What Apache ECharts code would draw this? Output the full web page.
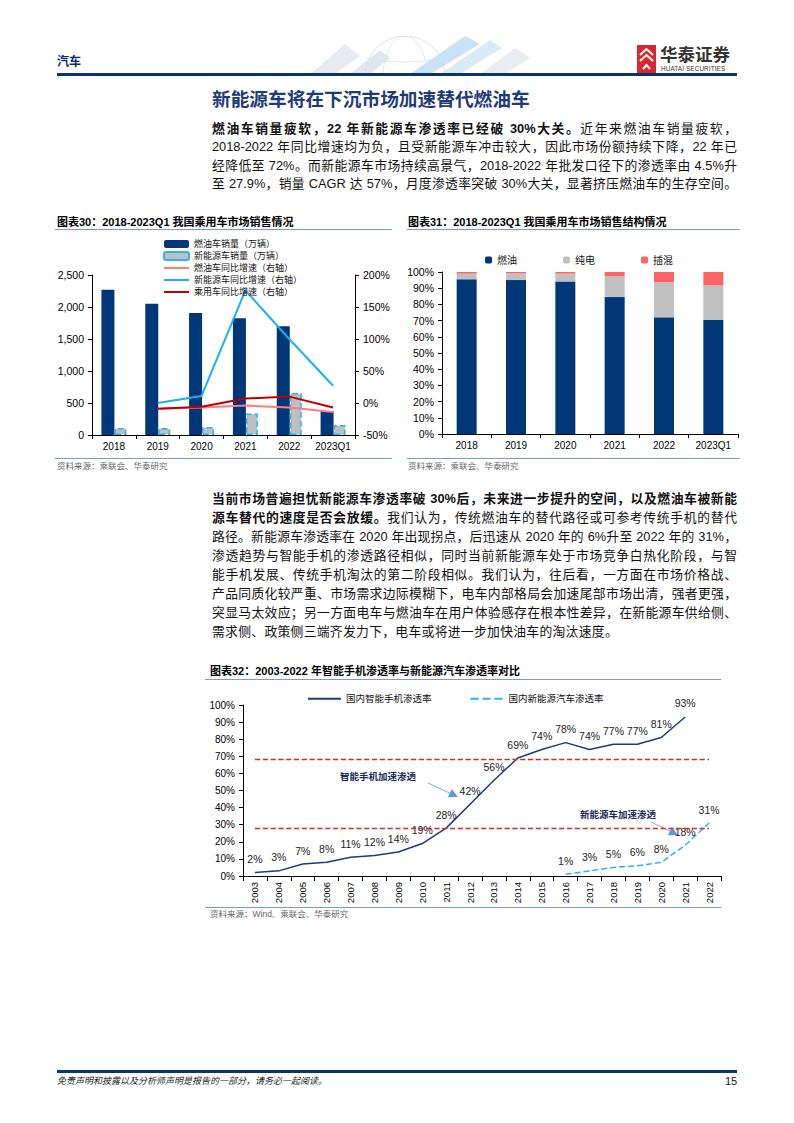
<!DOCTYPE html>
<html><head><meta charset="utf-8">
<script src="https://cdn.jsdelivr.net/npm/echarts@6/dist/echarts.min.js"></script>
<style>
html,body{margin:0;padding:0;background:#fff;}
#page{position:relative;width:794px;height:1123px;overflow:hidden;font-family:"Liberation Sans","Noto Sans CJK SC",sans-serif;color:#111;}
#chart{position:absolute;left:0;top:0;width:794px;height:1123px;}
.abs{position:absolute;white-space:nowrap;}
.ln{position:absolute;left:212px;width:525px;font-size:12.8px;line-height:18.5px;height:18.5px;text-align:justify;text-align-last:justify;color:#111;}
.hr{position:absolute;height:1px;background:#7f9cc0;}
.ttl{position:absolute;font-size:11px;font-weight:bold;color:#000;line-height:14px;white-space:nowrap;}
.src{position:absolute;font-size:8.5px;color:#666;line-height:12px;white-space:nowrap;}
b{font-weight:bold;}
</style></head>
<body><div id="page">
<div id="chart"></div>

<!-- header -->
<svg class="abs" style="left:290px;top:36px" width="250" height="38">
  <g opacity="0.55">
    <polygon points="20,38 55,8 70,20 45,38" fill="#d5dce6"/>
    <polygon points="60,38 90,14 100,22 80,38" fill="#c6d3e3"/>
    <circle cx="115" cy="40" r="40" fill="none" stroke="#c3ccd8" stroke-width="1"/>
    <ellipse cx="115" cy="40" rx="22" ry="40" fill="none" stroke="#c3ccd8" stroke-width="0.8"/>
    <path d="M75,22 Q115,30 155,22" fill="none" stroke="#c3ccd8" stroke-width="0.8"/>
    <polygon points="120,38 175,0 190,8 140,38" fill="#9fcbee"/>
    <polygon points="150,38 200,4 212,12 170,38" fill="#bcd9f0"/>
    <polygon points="190,38 225,12 240,22 215,38" fill="#d8dde5"/>
  </g>
</svg>
<div class="abs" style="left:57px;top:54px;font-size:12px;font-weight:bold;color:#0b2a66;line-height:16px;">汽车</div>
<svg class="abs" style="left:637px;top:45px" width="19" height="28">
  <rect x="0" y="0" width="19" height="28" fill="#d7282f"/>
  <path d="M3,10 L9.5,4 L16,10 M3,16 L9.5,10 L16,16 M6,24 L9.5,20 L13,24" stroke="#fff" stroke-width="2" fill="none"/>
</svg>
<div class="abs" style="left:660px;top:44px;font-size:17.5px;font-weight:bold;color:#333;line-height:22px;">华泰证券</div>
<div class="abs" style="left:661px;top:65px;font-size:6.4px;color:#333;line-height:8px;letter-spacing:0.1px;">HUATAI SECURITIES</div>
<div class="abs" style="left:57px;top:73px;width:680px;height:2.5px;background:#0a3470;"></div>

<div class="abs" style="left:212px;top:89px;font-size:18.7px;font-weight:bold;color:#1f3b78;line-height:22px;">新能源车将在下沉市场加速替代燃油车</div>

<div class="ln" style="top:119.5px"><b>燃油车销量疲软，22 年新能源车渗透率已经破 30%大关。</b>近年来燃油车销量疲软，</div>
<div class="ln" style="top:138px">2018-2022 年同比增速均为负，且受新能源车冲击较大，因此市场份额持续下降，22 年已</div>
<div class="ln" style="top:156.5px">经降低至 72%。而新能源车市场持续高景气，2018-2022 年批发口径下的渗透率由 4.5%升</div>
<div class="ln" style="top:175px">至 27.9%，销量 CAGR 达 57%，月度渗透率突破 30%大关，显著挤压燃油车的生存空间。</div>

<!-- chart 30 / 31 titles -->
<div class="ttl" style="left:57px;top:215px;">图表30：2018-2023Q1 我国乘用车市场销售情况</div>
<div class="hr" style="left:55px;top:229px;width:337px;"></div>
<div class="ttl" style="left:408px;top:215px;">图表31：2018-2023Q1 我国乘用车市场销售结构情况</div>
<div class="hr" style="left:407px;top:229px;width:333px;"></div>
<div class="hr" style="left:55px;top:458px;width:337px;"></div>
<div class="src" style="left:57px;top:460px;">资料来源：乘联会、华泰研究</div>
<div class="hr" style="left:407px;top:458px;width:333px;"></div>
<div class="src" style="left:408px;top:460px;">资料来源：乘联会、华泰研究</div>

<div class="ln" style="top:489.5px"><b>当前市场普遍担忧新能源车渗透率破 30%后，未来进一步提升的空间，以及燃油车被新能</b></div>
<div class="ln" style="top:508.5px"><b>源车替代的速度是否会放缓。</b>我们认为，传统燃油车的替代路径或可参考传统手机的替代</div>
<div class="ln" style="top:527.5px">路径。新能源车渗透率在 2020 年出现拐点，后迅速从 2020 年的 6%升至 2022 年的 31%，</div>
<div class="ln" style="top:546.5px">渗透趋势与智能手机的渗透路径相似，同时当前新能源车处于市场竞争白热化阶段，与智</div>
<div class="ln" style="top:565.5px">能手机发展、传统手机淘汰的第二阶段相似。我们认为，往后看，一方面在市场价格战、</div>
<div class="ln" style="top:584.5px">产品同质化较严重、市场需求边际模糊下，电车内部格局会加速尾部市场出清，强者更强，</div>
<div class="ln" style="top:603.5px">突显马太效应；另一方面电车与燃油车在用户体验感存在根本性差异，在新能源车供给侧、</div>
<div class="ln" style="top:622.5px;text-align:left;text-align-last:left;letter-spacing:0.3px;">需求侧、政策侧三端齐发力下，电车或将进一步加快油车的淘汰速度。</div>

<div class="ttl" style="left:210px;top:664px;">图表32：2003-2022 年智能手机渗透率与新能源汽车渗透率对比</div>
<div class="hr" style="left:205px;top:679px;width:516px;"></div>
<div class="hr" style="left:205px;top:907px;width:516px;"></div>
<div class="src" style="left:210px;top:908px;">资料来源：Wind、乘联会、华泰研究</div>

<!-- footer -->
<div class="abs" style="left:57px;top:1070px;width:680px;height:2.5px;background:#0a3470;"></div>
<div class="abs" style="left:57px;top:1075px;font-size:9px;font-style:italic;color:#222;line-height:12px;">免责声明和披露以及分析师声明是报告的一部分，请务必一起阅读。</div>
<div class="abs" style="left:725px;top:1074px;font-size:11px;color:#111;line-height:14px;">15</div>
</div>

<script>
// ---------- data ----------
const years1 = ['2018','2019','2020','2021','2022','2023Q1'];
const fuelSales = [2270, 2050, 1905, 1825, 1700, 372];       // 燃油车销量（万辆）
const nevSales  = [110, 110, 125, 335, 655, 155];            // 新能源车销量（万辆）
const fuelYoY   = [null, -9, -7, -4, -7, -14];               // 燃油车同比增速 %
const nevYoY    = [null, 0, 11, 176, 100, 27];               // 新能源车同比增速 %
const totalYoY  = [null, -9, -6, 7, 10, -7];                 // 乘用车同比增速 %

const shareFuel = [95.5, 95.0, 94.2, 84.5, 72.0, 70.5];      // 燃油 %
const shareBEV  = [3.5, 4.2, 4.8, 12.8, 21.7, 21.2];         // 纯电 %
const sharePHEV = [1.0, 0.8, 1.0, 2.7, 6.3, 8.3];            // 插混 %

const years3 = ['2003','2004','2005','2006','2007','2008','2009','2010','2011','2012',
                '2013','2014','2015','2016','2017','2018','2019','2020','2021','2022'];
const phoneRate = [2,3,7,8,11,12,14,19,28,42,56,69,74,78,74,77,77,81,93,null];
const nevRate   = [null,null,null,null,null,null,null,null,null,null,null,null,null,1,3,5,6,8,18,31];
const thresholds = [68.4, 27.8];

const FONT = '"Liberation Sans","Noto Sans CJK SC",sans-serif';
const axisBase = {
  axisLine:{show:true,onZero:false,lineStyle:{color:'#000',width:1}},
  axisTick:{show:true,length:4,lineStyle:{color:'#000'}},
  axisLabel:{color:'#000',fontSize:10,fontFamily:FONT},
  splitLine:{show:false}
};
function ax(o){return Object.assign({}, JSON.parse(JSON.stringify(axisBase)), o);}

function arrow(x1,y1,x2,y2){
  const a=Math.atan2(y2-y1,x2-x1), L=9, W=4.5;
  const bx=x2-L*Math.cos(a), by=y2-L*Math.sin(a);
  return {type:'group',children:[
    {type:'line',shape:{x1:x1,y1:y1,x2:bx,y2:by},style:{stroke:'#79aee0',lineWidth:1}},
    {type:'polygon',shape:{points:[[x2,y2],[bx-W*Math.sin(a),by+W*Math.cos(a)],[bx+W*Math.sin(a),by-W*Math.cos(a)]]},style:{fill:'#5b9bd5'}}
  ]};
}
const noDot = {opacity:0};

const chart = echarts.init(document.getElementById('chart'), null, {renderer:'svg'});
chart.setOption({
  animation:false,
  textStyle:{fontFamily:FONT},
  grid:[
    {left:92, top:275, width:263, height:160},
    {left:442, top:272, width:296, height:162},
    {left:243, top:705, width:478, height:171}
  ],
  legend:[
    {orient:'vertical', left:158, top:233, itemWidth:25, itemHeight:8, itemGap:0,
     textStyle:{fontSize:9,color:'#111',lineHeight:12},
     data:['燃油车销量（万辆）','新能源车销量（万辆）',
           {name:'燃油车同比增速（右轴）',itemStyle:noDot},
           {name:'新能源车同比增速（右轴）',itemStyle:noDot},
           {name:'乘用车同比增速（右轴）',itemStyle:noDot}]},
    {left:480, top:250, itemWidth:7, itemHeight:7, itemGap:46, textStyle:{fontSize:10,color:'#111'},
     data:['燃油','纯电','插混']},
    {left:302, top:689, itemWidth:33, itemHeight:8, itemGap:38, textStyle:{fontSize:9.5,color:'#111'},
     data:[{name:'国内智能手机渗透率',itemStyle:noDot},{name:'国内新能源汽车渗透率',itemStyle:noDot}]}
  ],
  xAxis:[
    ax({gridIndex:0,type:'category',data:years1,axisLabel:{color:'#000',fontSize:10,margin:6,interval:0}}),
    ax({gridIndex:1,type:'category',data:years1,axisLabel:{color:'#000',fontSize:10,margin:6,interval:0}}),
    ax({gridIndex:2,type:'category',data:years3,axisTick:{show:true,length:5,lineStyle:{color:'#000'}},
        axisLabel:{color:'#000',fontSize:9.5,rotate:90,interval:0,margin:6}})
  ],
  yAxis:[
    ax({gridIndex:0,type:'value',min:0,max:2500,interval:500,
        axisLabel:{color:'#000',fontSize:10.5,formatter:v=>v.toLocaleString('en-US')}}),
    ax({gridIndex:0,type:'value',position:'right',min:-50,max:200,interval:50,
        axisLabel:{color:'#000',fontSize:10.5,formatter:'{value}%'}}),
    ax({gridIndex:1,type:'value',min:0,max:100,interval:10,axisLabel:{color:'#000',fontSize:10.5,formatter:'{value}%'}}),
    ax({gridIndex:2,type:'value',min:0,max:100,interval:10,axisLabel:{color:'#000',fontSize:10,formatter:'{value}%'}})
  ],
  series:[
    {type:'bar',name:'燃油车销量（万辆）',xAxisIndex:0,yAxisIndex:0,data:fuelSales,barWidth:13,barGap:'0%',
     itemStyle:{color:'#003778'}},
    {type:'bar',name:'新能源车销量（万辆）',xAxisIndex:0,yAxisIndex:0,data:nevSales,barWidth:12,
     itemStyle:{color:'#bfbfbf',borderColor:'#2fb3ea',borderWidth:1.5,borderType:'dashed'}},
    {type:'line',name:'燃油车同比增速（右轴）',xAxisIndex:0,yAxisIndex:1,data:fuelYoY,symbol:'none',
     lineStyle:{color:'#ff7b80',width:2},itemStyle:{color:'#ff7b80'}},
    {type:'line',name:'新能源车同比增速（右轴）',xAxisIndex:0,yAxisIndex:1,data:nevYoY,symbol:'none',
     lineStyle:{color:'#1db0ea',width:2},itemStyle:{color:'#1db0ea'}},
    {type:'line',name:'乘用车同比增速（右轴）',xAxisIndex:0,yAxisIndex:1,data:totalYoY,symbol:'none',
     lineStyle:{color:'#c00000',width:2},itemStyle:{color:'#c00000'}},

    {type:'bar',name:'燃油',xAxisIndex:1,yAxisIndex:2,stack:'s',data:shareFuel,barWidth:20,itemStyle:{color:'#003778'}},
    {type:'bar',name:'纯电',xAxisIndex:1,yAxisIndex:2,stack:'s',data:shareBEV,barWidth:20,itemStyle:{color:'#c0c0c0'}},
    {type:'bar',name:'插混',xAxisIndex:1,yAxisIndex:2,stack:'s',data:sharePHEV,barWidth:20,itemStyle:{color:'#ff6464'}},

    {type:'line',name:'国内智能手机渗透率',xAxisIndex:2,yAxisIndex:3,data:phoneRate,symbol:'circle',symbolSize:0.5,
     lineStyle:{color:'#1f3b78',width:1.5},itemStyle:{color:'#1f3b78'},
     label:{show:true,position:'top',distance:8,formatter:'{c}%',fontSize:10.5,color:'#222'},
     markLine:{silent:true,symbol:'none',label:{show:false},
       lineStyle:{color:'#d42a2a',type:'dashed',width:1.3},
       data:thresholds.map(t=>[{coord:[years3[0],t]},{coord:[years3[years3.length-1],t]}])}},
    {type:'line',name:'国内新能源汽车渗透率',xAxisIndex:2,yAxisIndex:3,data:nevRate,symbol:'circle',symbolSize:0.5,
     lineStyle:{color:'#2bb5ea',width:1.5,type:'dashed'},itemStyle:{color:'#2bb5ea'},
     label:{show:true,position:'top',distance:8,formatter:'{c}%',fontSize:10.5,color:'#222'}}
  ],
  graphic:[
    arrow(428,783,458,797),
    arrow(651,822,678,835),
    {type:'text',left:340,top:771,style:{text:'智能手机加速渗透',font:'bold 9.5px "Noto Sans CJK SC"',fill:'#1a2a5a'}},
    {type:'text',left:580,top:809,style:{text:'新能源车加速渗透',font:'bold 9.5px "Noto Sans CJK SC"',fill:'#1a2a5a'}}
  ]
});
</script>
</body></html>
